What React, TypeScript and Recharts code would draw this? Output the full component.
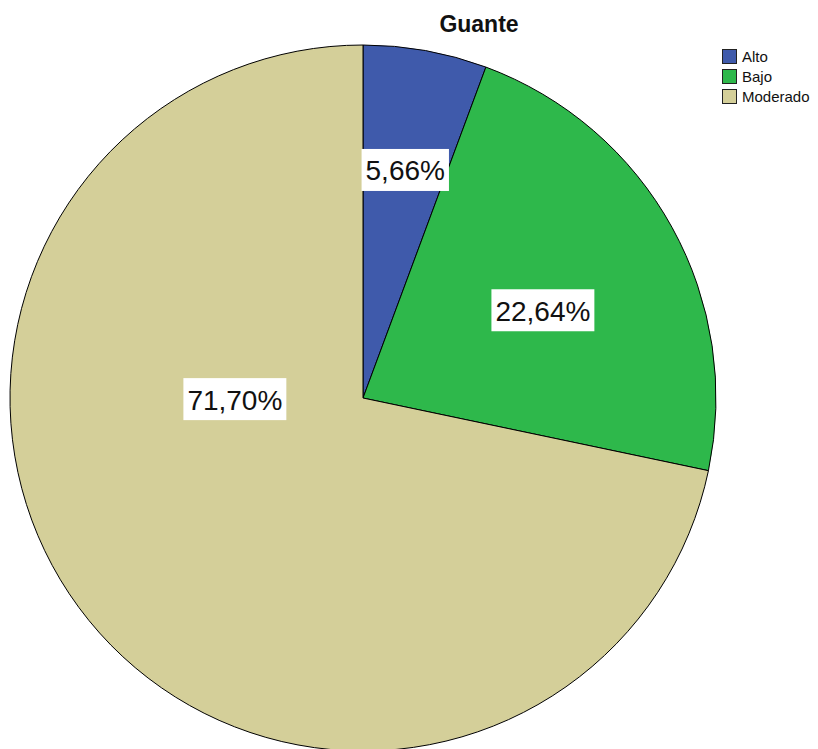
import React from 'react';
import { PieChart, Pie, Cell } from 'recharts';

const categories = ['Alto', 'Bajo', 'Moderado'];
const percentages = [5.66, 22.64, 71.7];
const colors = ['#3f5aab', '#2eb84b', '#d4cf99'];

// where SPSS put each label: angle (deg) and fraction of radius
const labelSpots = [
    { angle: 79.5, r: 0.657 },
    { angle: 26, r: 0.567 },
    { angle: 180.5, r: 0.363 },
];

const data = categories.map((name, i) => ({ name, value: percentages[i] }));

const FONT = '"Liberation Sans", Arial, sans-serif';
const RAD = Math.PI / 180;

const charW = (c: string) => (c === ',' ? 0.278 : c === '%' ? 0.889 : 0.556);

const renderLabel = (props: any) => {
    const { cx, cy, outerRadius, index, value } = props;
    const spot = labelSpots[index];
    const x = cx + Math.cos(spot.angle * RAD) * outerRadius * spot.r;
    const y = cy - Math.sin(spot.angle * RAD) * outerRadius * spot.r;
    const text = value.toFixed(2).replace('.', ',') + '%';
    const fs = 28;
    const w = text.split('').reduce((s: number, c: string) => s + charW(c) * fs, 0) + 8;
    const h = 42;
    return (
        <g>
            <rect x={x - w / 2} y={y - h / 2} width={w} height={h} fill="#ffffff" />
            <text x={x} y={y + 1} textAnchor="middle" dominantBaseline="central" fontFamily={FONT} fontSize={fs} fill="#111">
                {text}
            </text>
        </g>
    );
};

export default function App() {
    return (
        <div style={{ position: 'fixed', left: 0, top: 0, width: 818, height: 749, background: '#fff', overflow: 'hidden' }}>
            <PieChart width={818} height={749} margin={{ top: 0, right: 0, bottom: 0, left: 0 }}>
                <text x={479} y={32} textAnchor="middle" fontFamily={FONT} fontSize={23} fontWeight="bold" fill="#111">
                    Guante
                </text>
                <Pie
                    data={data}
                    dataKey="value"
                    nameKey="name"
                    cx={363}
                    cy={398}
                    outerRadius={353}
                    startAngle={90}
                    endAngle={-270}
                    stroke="#000"
                    strokeWidth={1}
                    label={renderLabel}
                    labelLine={false}
                    isAnimationActive={false}
                >
                    {data.map((d, i) => (
                        <Cell key={d.name} fill={colors[i]} />
                    ))}
                </Pie>
            </PieChart>
            {/* legend drawn outside the chart so it doesn't shift the pie */}
            <div style={{ position: 'absolute', left: 722, top: 46, fontFamily: FONT, fontSize: 15, color: '#111' }}>
                {categories.map((name, i) => (
                    <div key={name} style={{ display: 'flex', alignItems: 'center', height: 20 }}>
                        <span style={{ display: 'inline-block', width: 15, height: 15, background: colors[i], border: '1px solid #222', marginRight: 5, boxSizing: 'border-box' }} />
                        {name}
                    </div>
                ))}
            </div>
        </div>
    );
}
